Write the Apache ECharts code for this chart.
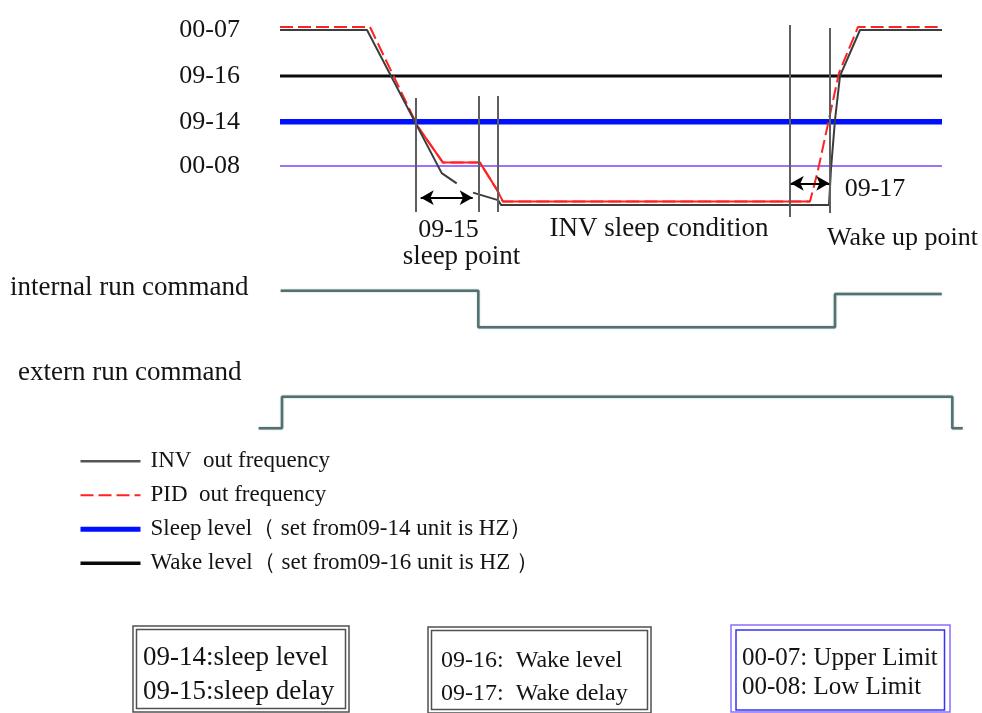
<!DOCTYPE html>
<html>
<head>
<meta charset="utf-8">
<script src="https://cdn.jsdelivr.net/npm/echarts@6/dist/echarts.min.js"></script>
<style>
  html, body { margin: 0; padding: 0; background: #ffffff; }
  #chart { width: 982px; height: 713px; }
</style>
</head>
<body>
<div id="chart"></div>
<script>
// Sleep / wake timing diagram.
// Time runs along x (arbitrary units), frequency along y (Hz).

// Parameter levels shown on the frequency axis
const levelNames = ['00-07', '09-16', '09-14', '00-08'];
const levelValues = [60, 44.7, 29.4, 14.7];
const levelStart = 3.0;
const levelEnd = 69.2;

// Inverter output frequency ('-' leaves a gap in the trace)
const invFreq = [
  [3.0, 60], [11.7, 60], [19.17, 12.3], [20.67, 8.9], [21.5, '-'],
  [22.3, 5.8], [24.8, 3.3], [25.1, 1.7], [57.9, 1.7], [58.1, 13.7],
  [58.5, 30], [59.0, 44.7], [61.0, 60], [69.2, 60]
];

// PID output frequency
const pidFreq = [
  [3.0, 61], [12.0, 61], [16.8, 27.7], [19.3, 15.8], [23.0, 15.8],
  [24.7, 6.7], [25.3, 2.8], [56.0, 2.8], [56.8, 13.3], [58.9, 45.7],
  [60.8, 61], [69.2, 61]
];
// stretch of the PID trace drawn solid
const pidSolid = [
  [16.8, 27.7], [19.3, 15.8], [23.0, 15.8], [24.7, 6.7], [25.3, 2.8], [56.0, 2.8]
];

// Vertical timing markers: time, top, bottom
const markerTimes = [16.57, 22.83, 24.77, 54.0, 57.93];
const markerTops = [37.3, 38.0, 38.0, 61.7, 60.7];
const markerBottoms = [-0.7, -0.7, -0.7, -2.3, -1.0];

// Delay spans (double arrows): from, to, level
const sleepDelay = [17.07, 22.27, 4.1];
const wakeDelay = [54.07, 57.93, 8.9];

// Run command signals (1 = on, 0 = off)
const internalRun = [[3.07, 1], [22.83, 1], [22.83, 0], [58.5, 0], [58.5, 0.91], [69.17, 0.91]];
const externRun = [[0.87, 0], [3.2, 0], [3.2, 1], [70.23, 1], [70.23, 0], [71.27, 0]];

// Legend names
const nameInv = 'INV  out frequency';
const namePid = 'PID  out frequency';
const nameSleep = 'Sleep level（ set from09-14 unit is HZ）';
const nameWake = 'Wake level（ set from09-16 unit is HZ ）';

const serif = '"Liberation Serif", "Times New Roman", serif';
const ink = '#141414';

function levelLine(value) {
  return [[levelStart, value], [levelEnd, value]];
}

const verticalMarks = markerTimes.map((t, i) => [
  { coord: [t, markerTops[i]] },
  { coord: [t, markerBottoms[i]] }
]);

const delaySpans = [sleepDelay, wakeDelay].map(d => [
  { coord: [d[0], d[2]] },
  { coord: [d[1], d[2]] }
]);

const hiddenAxis = {
  axisLine: { show: false }, axisTick: { show: false },
  axisLabel: { show: false }, splitLine: { show: false }
};

function textEl(x, y, text, size, align) {
  return {
    type: 'text', x: x, y: y,
    style: {
      text: text, font: size + 'px ' + serif, fill: ink,
      textAlign: align, textVerticalAlign: 'middle', align: align, verticalAlign: 'middle'
    }
  };
}

function frame(x, y, w, h, color) {
  return { type: 'rect', shape: { x: x, y: y, width: w, height: h }, style: { fill: 'none', stroke: color, lineWidth: 1.5 } };
}

const runLine = { color: '#4f7373', width: 2.5, shadowColor: 'rgba(0,0,0,0.35)', shadowBlur: 1.5 };

const chart = echarts.init(document.getElementById('chart'), null, { renderer: 'canvas' });

chart.setOption({
  animation: false,
  backgroundColor: '#ffffff',
  grid: [
    { left: 250, width: 720, top: 24, height: 198 },
    { left: 250, width: 720, top: 290.7, height: 36.6 },
    { left: 250, width: 720, top: 396.7, height: 31.6 }
  ],
  xAxis: [
    Object.assign({ type: 'value', gridIndex: 0, min: 0, max: 72 }, hiddenAxis),
    Object.assign({ type: 'value', gridIndex: 1, min: 0, max: 72 }, hiddenAxis),
    Object.assign({ type: 'value', gridIndex: 2, min: 0, max: 72 }, hiddenAxis)
  ],
  yAxis: [
    {
      type: 'value', gridIndex: 0, min: -4, max: 62,
      axisLine: { show: false }, axisTick: { show: false }, splitLine: { show: false },
      axisLabel: {
        show: true,
        customValues: levelValues,
        formatter: v => levelNames[levelValues.indexOf(v)] || '',
        fontFamily: serif, fontSize: 26, color: ink, margin: 10
      }
    },
    Object.assign({ type: 'value', gridIndex: 1, min: 0, max: 1 }, hiddenAxis),
    Object.assign({ type: 'value', gridIndex: 2, min: 0, max: 1 }, hiddenAxis)
  ],
  legend: {
    orient: 'vertical', left: 78, top: 449.7, padding: 0,
    itemWidth: 60, itemHeight: 22, itemGap: 11,
    data: [
      { name: nameInv, lineStyle: { width: 2.5, color: '#555555' } },
      { name: namePid, lineStyle: { width: 2, color: '#ff2222', type: [13, 5] } },
      { name: nameSleep, lineStyle: { width: 5, color: '#0010ff' } },
      { name: nameWake, lineStyle: { width: 3.5, color: '#0a0a0a' } }
    ],
    itemStyle: { opacity: 0 },
    textStyle: { fontFamily: serif, fontSize: 23, color: ink, padding: [0, 0, 0, 5] },
    selectedMode: false
  },
  series: [
    {
      name: 'low limit', type: 'line', xAxisIndex: 0, yAxisIndex: 0,
      data: levelLine(levelValues[3]), symbol: 'none', silent: true,
      lineStyle: { color: '#7b45ff', width: 1.5 }
    },
    {
      name: nameSleep, type: 'line', xAxisIndex: 0, yAxisIndex: 0,
      data: levelLine(levelValues[2]), symbol: 'none', silent: true,
      lineStyle: { color: '#0010ff', width: 5.5 }, itemStyle: { color: '#0010ff' }
    },
    {
      name: nameWake, type: 'line', xAxisIndex: 0, yAxisIndex: 0,
      data: levelLine(levelValues[1]), symbol: 'none', silent: true,
      lineStyle: { color: '#0a0a0a', width: 3 }, itemStyle: { color: '#0a0a0a' }
    },
    {
      name: 'markers', type: 'line', xAxisIndex: 0, yAxisIndex: 0, data: [],
      markLine: {
        silent: true, symbol: 'none', animation: false,
        label: { show: false },
        lineStyle: { color: '#5e5e5e', width: 2, type: 'solid' },
        emphasis: { disabled: true },
        data: verticalMarks
      }
    },
    {
      name: 'delays', type: 'line', xAxisIndex: 0, yAxisIndex: 0, data: [],
      markLine: {
        silent: true, symbol: ['arrow', 'arrow'], symbolSize: [11, 13], animation: false,
        label: { show: false },
        lineStyle: { color: '#000000', width: 2, type: 'solid' },
        itemStyle: { color: '#000000' },
        emphasis: { disabled: true },
        data: delaySpans
      }
    },
    {
      name: namePid, type: 'line', xAxisIndex: 0, yAxisIndex: 0,
      data: pidFreq, symbol: 'none', silent: true,
      lineStyle: { color: '#ff2222', width: 2, type: [13, 5] }, itemStyle: { color: '#ff2222' }
    },
    {
      name: 'pid solid', type: 'line', xAxisIndex: 0, yAxisIndex: 0,
      data: pidSolid, symbol: 'none', silent: true,
      lineStyle: { color: '#ff2222', width: 2 }
    },
    {
      name: nameInv, type: 'line', xAxisIndex: 0, yAxisIndex: 0,
      data: invFreq, symbol: 'none', silent: true, connectNulls: false,
      lineStyle: { color: '#3c3c3c', width: 2 }, itemStyle: { color: '#5a5a5a' }
    },
    {
      name: 'internal run', type: 'line', xAxisIndex: 1, yAxisIndex: 1,
      data: internalRun, symbol: 'none', silent: true, clip: false,
      lineStyle: runLine
    },
    {
      name: 'extern run', type: 'line', xAxisIndex: 2, yAxisIndex: 2,
      data: externRun, symbol: 'none', silent: true, clip: false,
      lineStyle: runLine
    }
  ],
  graphic: [
    // annotations on the frequency plot
    textEl(448.5, 230, '09-15', 26, 'center'),
    textEl(461.5, 257, 'sleep point', 27, 'center'),
    textEl(659, 229, 'INV sleep condition', 27, 'center'),
    textEl(875, 189, '09-17', 26, 'center'),
    textEl(902.5, 238, 'Wake up point', 26, 'center'),
    // signal names
    textEl(10, 288, 'internal run command', 27, 'left'),
    textEl(18, 373, 'extern run command', 27, 'left'),
    // parameter boxes
    frame(133, 626, 216, 86, '#505050'),
    frame(136.5, 629.5, 209, 79, '#505050'),
    textEl(143, 658, '09-14:sleep level', 27, 'left'),
    textEl(143, 692, '09-15:sleep delay', 27, 'left'),

    frame(428, 627, 223, 86, '#505050'),
    frame(431.5, 630.5, 216, 79, '#505050'),
    textEl(441, 661, '09-16:  Wake level', 24, 'left'),
    textEl(441, 694, '09-17:  Wake delay', 24, 'left'),

    frame(731, 625, 219, 87, '#8c6cff'),
    frame(736, 630, 208.5, 80, '#3434ee'),
    textEl(742, 658, '00-07: Upper Limit', 25, 'left'),
    textEl(742, 687, '00-08: Low Limit', 25, 'left')
  ]
});
</script>
</body>
</html>
